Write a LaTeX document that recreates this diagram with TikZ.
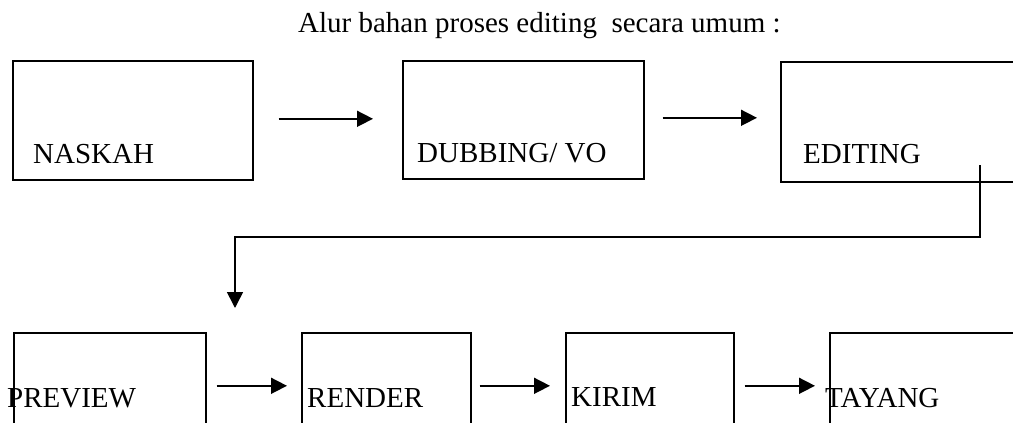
\documentclass[tikz,border=0pt]{standalone}
\usepackage{fontspec}
\setmainfont{Liberation Serif}
\usetikzlibrary{arrows.meta}
\begin{document}
\begin{tikzpicture}[x=1pt,y=-1pt,
  procbox/.style={draw, line width=1.6pt, inner sep=0pt, anchor=north west},
  lbl/.style={anchor=base west, inner sep=0pt, font=\fontsize{29}{34}\selectfont},
  flow/.style={line width=1.6pt, -{Triangle[length=16pt,width=16pt]}}]
\useasboundingbox (0,0) rectangle (1013,423);
\clip (0,0) rectangle (1013,423);

% title
\node[lbl] (title) at (298,32) {Alur bahan proses editing\ \ secara umum :};

% upper row
\node[procbox, minimum width=240pt, minimum height=119pt] (naskah) at (12,60) {};
\node[procbox, minimum width=241pt, minimum height=118pt] (dubbing) at (402,60) {};
\node[procbox, minimum width=260pt, minimum height=120pt] (editing) at (780,61) {};
\node[lbl] (tnaskah) at (33,163) {NASKAH};
\node[lbl] (tdubbing) at (417,162) {DUBBING/ VO};
\node[lbl] (tediting) at (803,163) {EDITING};

% lower row
\node[procbox, minimum width=192pt, minimum height=106pt] (preview) at (13,332) {};
\node[procbox, minimum width=169pt, minimum height=106pt] (render) at (301,332) {};
\node[procbox, minimum width=168pt, minimum height=106pt] (kirim) at (565,332) {};
\node[procbox, minimum width=200pt, minimum height=106pt] (tayang) at (829,332) {};
\node[lbl] (tpreview) at (7,407) {PREVIEW};
\node[lbl] (trender) at (307,407) {RENDER};
\node[lbl] (tkirim) at (571,406) {KIRIM};
\node[lbl] (ttayang) at (825,407) {TAYANG};

% arrows between steps
\draw[flow, shorten <=25pt, shorten >=29pt] ([yshift=1.5pt]naskah.east) -- ([yshift=1.5pt]naskah.east -| dubbing.west);
\draw[flow, shorten <=18pt, shorten >=23pt] ([yshift=2pt]dubbing.east) -- ([yshift=2pt]dubbing.east -| editing.west);
\draw[flow, shorten <=10pt, shorten >=14pt] (preview.east) -- (render.west);
\draw[flow, shorten <=8pt, shorten >=15pt] (render.east) -- (kirim.west);
\draw[flow, shorten <=10pt, shorten >=14pt] (kirim.east) -- (tayang.west);

% return line from editing down to preview
\coordinate (eout) at (980,165);
\coordinate (pin) at (235,308);
\draw[flow] (eout) -- ++(0,72) -| (pin);
\end{tikzpicture}
\end{document}
